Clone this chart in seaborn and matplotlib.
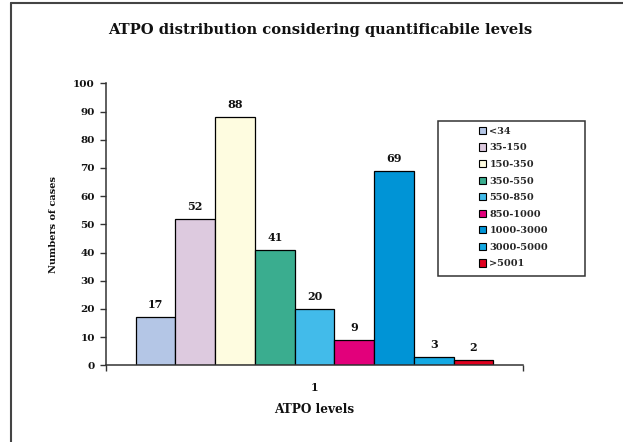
import matplotlib
matplotlib.use("Agg")
import matplotlib.pyplot as plt
from matplotlib.patches import Patch, Rectangle
from matplotlib.lines import Line2D
import seaborn as sns
import pandas as pd

ranges = ["<34", "35-150", "150-350", "350-550", "550-850", "850-1000",
          "1000-3000", "3000-5000", ">5001"]
cases = [17, 52, 88, 41, 20, 9, 69, 3, 2]
group = ["1"] * len(ranges)
colors = ["#B4C6E6", "#DDCADF", "#FEFCE0", "#3AAD8F", "#42BBEA",
          "#E2007B", "#0094D6", "#14A9E3", "#E0001E"]

df = pd.DataFrame({"group": group, "range": ranges, "cases": cases})

sns.set_theme(style="white")
plt.rcParams["font.family"] = ["DejaVu Serif"]
plt.rcParams["font.weight"] = "bold"

W, H = 623, 442
fig = plt.figure(figsize=(W / 100, H / 100), dpi=100)
ax = fig.add_axes([106 / W, 1 - 365.3 / H, 417 / W, (365.3 - 83.3) / H])

sns.barplot(data=df, x="group", y="cases", hue="range", hue_order=ranges,
            palette=colors, width=0.858, gap=0, edgecolor="black",
            linewidth=0.9, saturation=1, legend=False, ax=ax)

for c in ax.containers:
    ax.bar_label(c, padding=5, fontsize=8, fontweight="bold", color="#111111")

ax.set_xlim(-0.5, 0.5)
ax.set_ylim(0, 100)
ax.set_yticks(range(0, 101, 10))
ax.set_xticks([-0.5, 0.5], minor=True)
ax.tick_params(axis="x", which="major", length=0, pad=12, labelsize=7.8)
ax.tick_params(axis="x", which="minor", length=4, width=1, direction="out", color="#333333", bottom=True)
ax.tick_params(axis="y", length=4, width=1, direction="out", color="#333333", left=True, labelsize=7.5, pad=4)
for lab in ax.get_xticklabels() + ax.get_yticklabels():
    lab.set_fontweight("bold")
    lab.set_color("#111111")

sns.despine(ax=ax)
for s in ["left", "bottom"]:
    ax.spines[s].set_color("#333333")
    ax.spines[s].set_linewidth(1.1)

ax.set_xlabel("ATPO levels", fontsize=8.7, fontweight="bold", labelpad=7, color="#111111")
ax.set_ylabel("Numbers of cases", fontsize=7, fontweight="bold", labelpad=11, color="#111111")

fig.text(320 / W, 1 - 30 / H, "ATPO distribution considering quantificabile levels",
         ha="center", va="center", fontsize=10.6, fontweight="bold", color="#111111")

# legend
handles = [Patch(facecolor=col, edgecolor="black", linewidth=0.8) for col in colors]
leg = fig.legend(handles, ranges, loc="upper left",
                 bbox_to_anchor=(470 / W, 1 - 118 / H), frameon=False,
                 handlelength=0.75, handleheight=0.75,
                 handletextpad=0.35, labelspacing=0.78, borderpad=0.4,
                 prop={"weight": "bold", "size": 7.0})
fig.add_artist(Rectangle((438 / W, 1 - 276 / H), 147 / W, 155 / H,
                         transform=fig.transFigure, fill=False,
                         edgecolor="#333333", linewidth=1.1))

# figure frame (top and left)
fig.add_artist(Line2D([11 / W, 1], [1 - 3 / H, 1 - 3 / H], transform=fig.transFigure,
                      color="#444444", linewidth=1.5))
fig.add_artist(Line2D([11 / W, 11 / W], [0, 1 - 3 / H], transform=fig.transFigure,
                      color="#444444", linewidth=1.5))

fig.savefig("out.png", dpi=100)
